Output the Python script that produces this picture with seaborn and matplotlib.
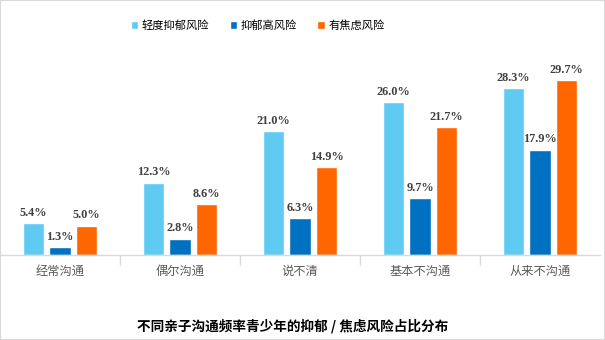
import matplotlib
matplotlib.use("Agg")
import matplotlib.pyplot as plt
import seaborn as sns
import pandas as pd
from matplotlib.patches import Rectangle

categories = ["经常沟通", "偶尔沟通", "说不清", "基本不沟通", "从来不沟通"]
series_names = ["轻度抑郁风险", "抑郁高风险", "有焦虑风险"]
mild_dep = [5.4, 12.3, 21.0, 26.0, 28.3]
high_dep = [1.3, 2.8, 6.3, 9.7, 17.9]
anxiety = [5.0, 8.6, 14.9, 21.7, 29.7]
title = "不同亲子沟通频率青少年的抑郁 / 焦虑风险占比分布"
colors = ["#5FCBF3", "#0070C0", "#FF6600"]

sns.set_theme(style="white")
plt.rcParams['font.family'] = ['Noto Sans CJK SC', 'DejaVu Sans']

rows = []
for name, vals in zip(series_names, [mild_dep, high_dep, anxiety]):
    for c, v in zip(categories, vals):
        rows.append({"cat": c, "series": name, "value": v})
df = pd.DataFrame(rows)

fig = plt.figure(figsize=(6.05, 3.4), dpi=100)
ax = fig.add_axes([0.0, 0.25, 600/605, 0.606])
sns.barplot(data=df, x="cat", y="value", hue="series", palette=colors,
            order=categories, hue_order=series_names, width=0.66, gap=0.2,
            saturation=1, ax=ax, legend=True)
ax.set_xlim(-0.5, 4.5)
ax.set_ylim(0, 35)
ax.set_xlabel("")
ax.set_ylabel("")
ax.set_yticks([])
for s in ["top", "right", "left"]:
    ax.spines[s].set_visible(False)
ax.spines["bottom"].set_color("#D9D9D9")
ax.spines["bottom"].set_linewidth(1.0)
ax.set_xticks(range(len(categories)))
ax.set_xticklabels(categories, fontsize=8.8, color="#595959")
ax.tick_params(axis="x", which="major", length=0, pad=7)
ax.set_xticks([0.5, 1.5, 2.5, 3.5], minor=True)
ax.tick_params(axis="x", which="minor", length=7, color="#D9D9D9", width=1, bottom=True)

for i, cont in enumerate(ax.containers):
    labels = [f"{v:.1f}%" for v in cont.datavalues]
    ax.bar_label(cont, labels=labels, padding=3, fontsize=8.8,
                 fontfamily="Liberation Serif", fontweight="bold",
                 color="#404040")

leg = ax.get_legend()
handles = leg.legend_handles
leg.remove()
fig.legend(handles, series_names, loc="center", bbox_to_anchor=(0.426, 0.925),
           ncol=3, frameon=False, prop={"size": 8.1, "weight": "medium"},
           labelcolor="black", handlelength=0.65, handleheight=0.65,
           handletextpad=0.35, columnspacing=1.8, borderaxespad=0)

fig.text(0.483, 0.04, title, ha="center", va="center", fontsize=9.8,
         fontweight="bold", color="black")

fig.patches.append(Rectangle((0, 0), 1, 1, transform=fig.transFigure,
                             fill=False, edgecolor="#D9D9D9", linewidth=1.5))
fig.savefig("out.png", dpi=100)
